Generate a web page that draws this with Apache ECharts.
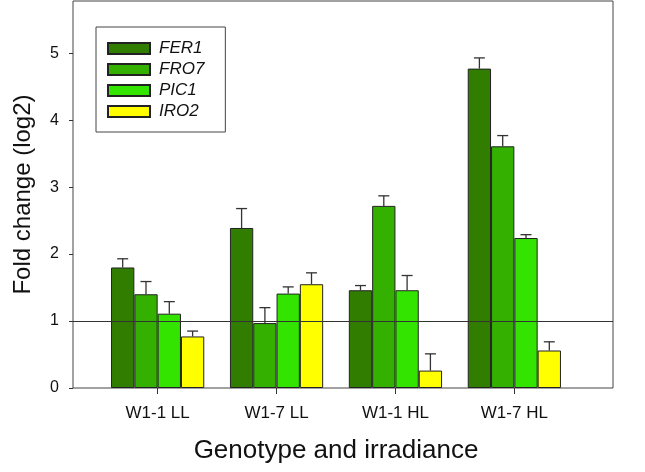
<!DOCTYPE html>
<html>
<head>
<meta charset="utf-8">
<script src="https://cdn.jsdelivr.net/npm/echarts@6/dist/echarts.min.js"></script>
<style>
html,body{margin:0;padding:0;background:#fff;}
#chart{width:645px;height:472px;}
</style>
</head>
<body>
<div id="chart"></div>
<script>
// ---- data ----
var categories = ['W1-1 LL', 'W1-7 LL', 'W1-1 HL', 'W1-7 HL'];
var seriesNames = ['FER1', 'FRO7', 'PIC1', 'IRO2'];
var fer1 = [1.80, 2.39, 1.46, 4.77];
var fro7 = [1.40, 0.97, 2.72, 3.61];
var pic1 = [1.11, 1.41, 1.46, 2.24];
var iro2 = [0.77, 1.55, 0.26, 0.56];
var fer1Err = [0.13, 0.29, 0.07, 0.16];
var fro7Err = [0.19, 0.23, 0.15, 0.16];
var pic1Err = [0.18, 0.10, 0.22, 0.05];
var iro2Err = [0.08, 0.17, 0.25, 0.13];
var yTicks = [0, 1, 2, 3, 4, 5];
var referenceLevel = 1;

var values = [fer1, fro7, pic1, iro2];
var errors = [fer1Err, fro7Err, pic1Err, iro2Err];
var colors = ['#317d00', '#33b000', '#33e400', '#ffff00'];
var FONT = '"Liberation Sans", Arial, sans-serif';
var BAR_FRAC = 0.196;
var Y_MAX = 5.78;

var chart = echarts.init(document.getElementById('chart'), null, {renderer: 'canvas'});

var series = [];
// reference line at fold change 1, spanning the full frame
series.push({
  type: 'line', xAxisIndex: 0, yAxisIndex: 0, data: [], z: 1, silent: true,
  markLine: {
    symbol: 'none', silent: true, label: {show: false},
    lineStyle: {color: '#333', width: 1, type: 'solid'},
    data: [{yAxis: referenceLevel}]
  }
});
seriesNames.forEach(function (name, i) {
  series.push({
    name: name, type: 'bar', xAxisIndex: 1, yAxisIndex: 1,
    data: values[i], barWidth: (BAR_FRAC * 100) + '%', barGap: '0%', z: 3,
    itemStyle: {color: colors[i], borderColor: '#222', borderWidth: 1},
    emphasis: {disabled: true}
  });
});
seriesNames.forEach(function (name, i) {
  series.push({
    type: 'custom', xAxisIndex: 1, yAxisIndex: 1, z: 4, silent: true,
    data: values[i].map(function (v, j) { return [j, v, v + errors[i][j]]; }),
    renderItem: function (params, api) {
      var band = api.size([1, 0])[0];
      var w = band * BAR_FRAC;
      var c = api.coord([api.value(0), api.value(1)]);
      var t = api.coord([api.value(0), api.value(2)]);
      var x = c[0] - 2 * w + w * (i + 0.5);
      var style = {stroke: '#333', lineWidth: 1.3, fill: null};
      return {
        type: 'group',
        children: [
          {type: 'line', shape: {x1: x, y1: c[1], x2: x, y2: t[1]}, style: style},
          {type: 'line', shape: {x1: x - 5.5, y1: t[1], x2: x + 5.5, y2: t[1]}, style: style}
        ]
      };
    }
  });
});

chart.setOption({
  animation: false,
  backgroundColor: '#fff',
  textStyle: {fontFamily: FONT},
  legend: {
    data: seriesNames,
    orient: 'vertical',
    left: 96, top: 27,
    padding: [13, 21, 12, 11],
    itemWidth: 42, itemHeight: 11, itemGap: 4,
    borderColor: '#444', borderWidth: 1,
    icon: 'rect',
    textStyle: {fontFamily: FONT, fontSize: 17, fontStyle: 'italic', color: '#111', lineHeight: 17, padding: [0, 0, 0, 4]}
  },
  grid: [
    {left: 73, right: 32, top: 1, bottom: 84, show: true, borderColor: '#444', borderWidth: 1, backgroundColor: 'transparent'},
    {left: 98.2, right: 71.2, top: 1, bottom: 84}
  ],
  xAxis: [
    {type: 'value', gridIndex: 0, show: false, min: 0, max: 1},
    {
      type: 'category', gridIndex: 1, data: categories, boundaryGap: true,
      axisLine: {show: false},
      axisTick: {show: true, alignWithLabel: true, length: 6, lineStyle: {color: '#333'}},
      axisLabel: {fontSize: 17, color: '#111', margin: 17, fontFamily: FONT},
      name: 'Genotype and irradiance', nameLocation: 'middle', nameGap: 50,
      nameTextStyle: {fontSize: 26, color: '#111', fontFamily: FONT}
    }
  ],
  yAxis: [
    {
      type: 'value', gridIndex: 0, min: 0, max: Y_MAX,
      axisLine: {show: false},
      axisTick: {show: true, length: 4, lineStyle: {color: '#333'}, customValues: yTicks},
      axisLabel: {fontSize: 16, color: '#111', margin: 14, fontFamily: FONT, customValues: yTicks},
      splitLine: {show: false},
      name: 'Fold change (log2)', nameLocation: 'middle', nameGap: 38, nameRotate: 90,
      nameTextStyle: {fontSize: 24, color: '#111', fontFamily: FONT}
    },
    {type: 'value', gridIndex: 1, min: 0, max: Y_MAX, show: false, splitLine: {show: false}}
  ],
  series: series
});
</script>
</body>
</html>
